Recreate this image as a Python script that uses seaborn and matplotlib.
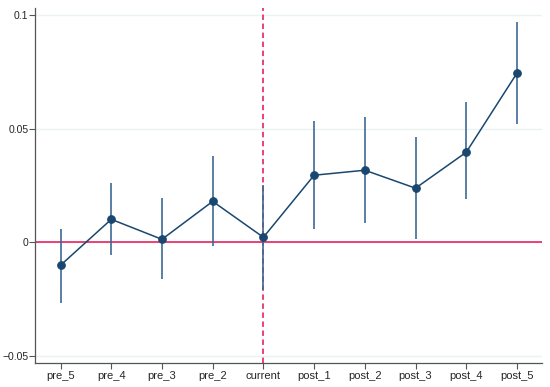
import numpy as np
import pandas as pd
import seaborn as sns
import matplotlib
matplotlib.use("Agg")
import matplotlib.pyplot as plt

periods = ["pre_5", "pre_4", "pre_3", "pre_2", "current",
           "post_1", "post_2", "post_3", "post_4", "post_5"]
coef = [-0.0101, 0.0101, 0.0013, 0.0180, 0.0022,
        0.0295, 0.0317, 0.0238, 0.0396, 0.0744]
ci_low = [-0.0269, -0.0057, -0.0163, -0.0018, -0.0210,
          0.0057, 0.0084, 0.0013, 0.0189, 0.0520]
ci_high = [0.0057, 0.0260, 0.0194, 0.0379, 0.0250,
           0.0533, 0.0550, 0.0463, 0.0617, 0.0970]
yticks = [-0.05, 0, 0.05, 0.1]
ytick_labels = ["\u22120.05", "0", "0.05", "0.1"]

df = pd.DataFrame({"period": periods, "coef": coef,
                   "low": ci_low, "high": ci_high})
df["pos"] = np.arange(len(df))

sns.set_style("white")
plt.rcParams["font.family"] = ["Liberation Sans", "DejaVu Sans"]

fig = plt.figure(figsize=(5.5, 3.87), dpi=100)
ax = fig.add_axes([0.064, 0.062, 0.922, 0.917])

# light grid lines like stata's default scheme
for t in yticks:
    ax.axhline(t, color="#eaf2f3", lw=1, zorder=0)

ax.axhline(0, color="#e8336d", lw=1.3, zorder=1)
ax.axvline(4, color="#e8336d", lw=1.3, ls=(0, (3, 2)), zorder=1)

ax.vlines(df["pos"], df["low"], df["high"], color="#3d6a94", lw=1.2, zorder=2)
sns.lineplot(data=df, x="pos", y="coef", ax=ax, color="#1a476f", lw=1.1,
             marker="o", markersize=5.5, markeredgecolor="#1a476f", zorder=3)

ax.set_xlim(-0.5, 9.5)
ax.set_ylim(-0.0531, 0.103)
ax.set_xticks(df["pos"])
ax.set_xticklabels(periods)
ax.set_yticks(yticks)
ax.set_yticklabels(ytick_labels)
ax.set_xlabel("")
ax.set_ylabel("")
ax.tick_params(axis="both", length=4, width=0.8,
               color="#555555", direction="out", bottom=True, left=True)
ax.tick_params(axis="x", labelsize=8, pad=2)
ax.tick_params(axis="y", labelsize=7.5, pad=1)

for s in ["top", "right"]:
    ax.spines[s].set_visible(False)
for s in ["left", "bottom"]:
    ax.spines[s].set_color("#555555")
    ax.spines[s].set_linewidth(0.9)

fig.savefig("out.png", dpi=100)
